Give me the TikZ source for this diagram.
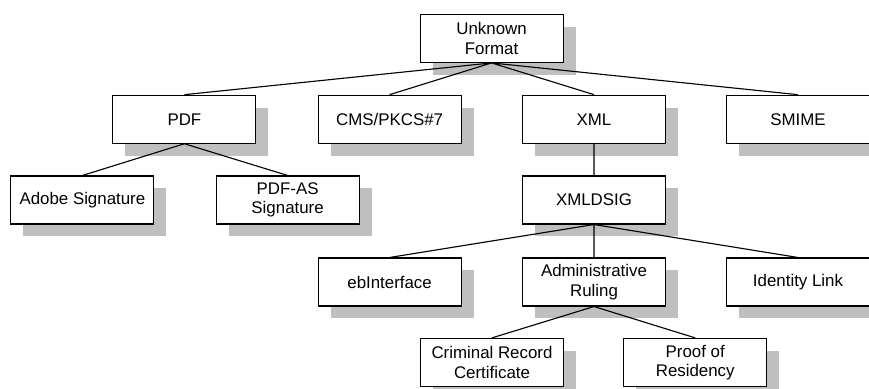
\documentclass[tikz,border=0pt]{standalone}
\usepackage{fontspec}
\setmainfont{Liberation Sans}
\usetikzlibrary{shadows}

\begin{document}
\begin{tikzpicture}[
    fmt/.style={draw, fill=white, line width=0.75pt, align=center,
      minimum width=3.575cm, minimum height=1.2cm, inner sep=0pt,
      font=\fontsize{12}{13.8}\selectfont,
      drop shadow={shadow xshift=0.31cm, shadow yshift=-0.31cm,
        fill=black!25, opacity=1}},
    link/.style={line width=0.8pt}]
    \useasboundingbox (0,0) rectangle (21.725,-9.725);

    \node[fmt] (unk) at (12.29,-0.96) {Unknown\\Format};

    \node[fmt] (pdf) at (4.61,-2.98) {PDF};
    \node[fmt] (cms) at (9.74,-2.98) {CMS/PKCS\#7};
    \node[fmt] (xml) at (14.85,-2.98) {XML};
    \node[fmt] (smime) at (19.95,-2.98) {SMIME};

    \node[fmt] (adobe) at (2.06,-5.0) {Adobe Signature};
    \node[fmt] (pdfas) at (7.19,-5.0) {PDF-AS\\Signature};
    \node[fmt] (dsig) at (14.85,-5.0) {XMLDSIG};

    \node[fmt] (ebi) at (9.74,-7.05) {ebInterface};
    \node[fmt] (admin) at (14.85,-7.05) {Administrative\\Ruling};
    \node[fmt] (idl) at (19.95,-7.05) {Identity Link};

    \node[fmt] (crim) at (12.3,-9.06) {Criminal Record\\Certificate};
    \node[fmt] (proof) at (17.38,-9.06) {Proof of\\Residency};

    \draw[link] (unk.south) -- (pdf.north)
    (unk.south) -- (cms.north)
    (unk.south) -- (xml.north)
    (unk.south) -- (smime.north);
    \draw[link] (pdf.south) -- (adobe.north)
    (pdf.south) -- (pdfas.north)
    (xml.south) -- (dsig.north);
    \draw[link] (dsig.south) -- (ebi.north)
    (dsig.south) -- (admin.north)
    (dsig.south) -- (idl.north);
    \draw[link] (admin.south) -- (crim.north)
    (admin.south) -- (proof.north);
  \end{tikzpicture}
\end{document}
